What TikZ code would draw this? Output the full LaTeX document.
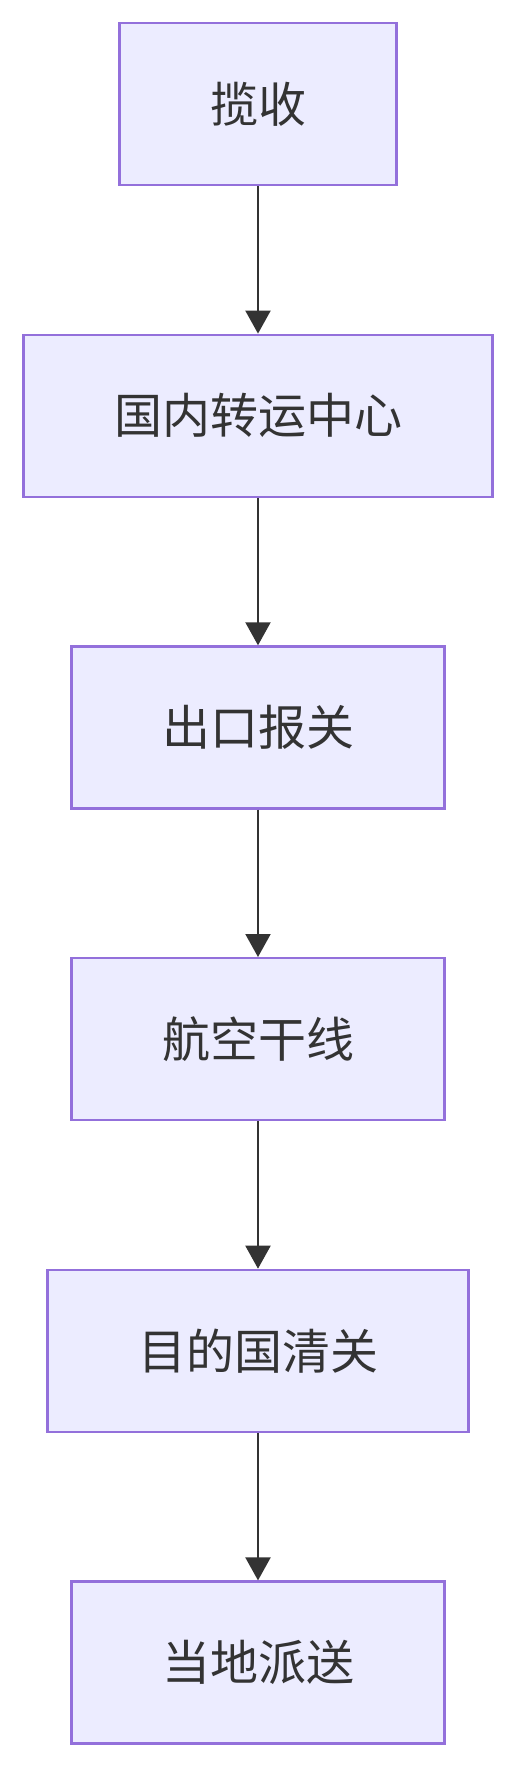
\documentclass[tikz,border=0pt]{standalone}
\usepackage{fontspec}
\newfontfamily\cjk{Noto Sans CJK SC}
\usetikzlibrary{positioning,arrows.meta}
\definecolor{boxfill}{HTML}{ECECFF}
\definecolor{boxline}{HTML}{9370DB}
\definecolor{ink}{HTML}{333333}
\tikzset{
    flowbox/.style={draw=boxline, fill=boxfill, line width=2.2pt, minimum height=162pt,
        text=ink, font=\cjk\fontsize{48pt}{48pt}\selectfont, inner sep=0pt},
    flowarrow/.style={draw=ink, line width=2pt, -{Triangle[length=23pt,width=25pt]}}
}
\begin{document}
\begin{tikzpicture}[node distance=147.5pt]
            \useasboundingbox (0,0) rectangle (516pt,-1770pt);
            \fill[white] (0,0) rectangle (516pt,-1770pt);
            \node[flowbox, minimum width=277pt] (pickup) at (258pt,-104pt) {揽收};
            \node[flowbox, minimum width=469pt, below=of pickup] (hub) {国内转运中心};
            \node[flowbox, minimum width=373pt, below=of hub] (export) {出口报关};
            \node[flowbox, minimum width=373pt, below=of export] (air) {航空干线};
            \node[flowbox, minimum width=421pt, below=of air] (customs) {目的国清关};
            \node[flowbox, minimum width=373pt, below=of customs] (delivery) {当地派送};
            \foreach \a/\b in {pickup/hub, hub/export, export/air, air/customs, customs/delivery} {
                    \draw[flowarrow] (\a) -- (\b);
                }
        \end{tikzpicture}
\end{document}
